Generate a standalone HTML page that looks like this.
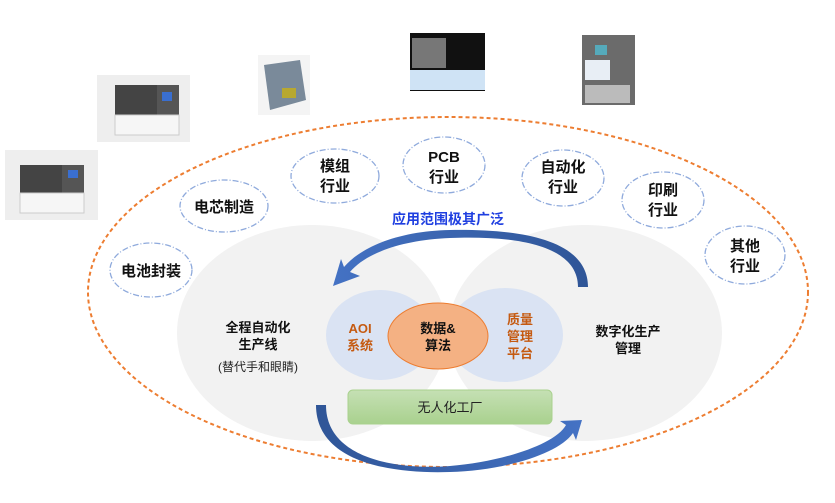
<!DOCTYPE html>
<html><head><meta charset="utf-8"><style>
body{margin:0;width:835px;height:498px;background:#fff;overflow:hidden}
text{font-family:"Liberation Sans","Noto Sans CJK SC",sans-serif}
</style></head><body>
<svg width="835" height="498" viewBox="0 0 835 498" xmlns="http://www.w3.org/2000/svg">
<rect x="5" y="150" width="93" height="70" fill="#eee"/>
<rect x="20" y="165" width="42" height="28" fill="#444"/><rect x="62" y="165" width="22" height="28" fill="#555"/><rect x="68" y="170" width="10" height="8" fill="#3a6fd0"/><rect x="20" y="193" width="64" height="20" fill="#f6f6f6" stroke="#ccc"/>
<rect x="97" y="75" width="93" height="67" fill="#eee"/>
<rect x="115" y="85" width="42" height="30" fill="#444"/><rect x="157" y="85" width="22" height="30" fill="#555"/><rect x="162" y="92" width="10" height="9" fill="#3a6fd0"/><rect x="115" y="115" width="64" height="20" fill="#f6f6f6" stroke="#ccc"/>
<rect x="258" y="55" width="52" height="60" fill="#f4f4f4"/><polygon points="264,65 300,60 306,100 270,110" fill="#7a8a9a"/><rect x="282" y="88" width="14" height="10" fill="#b8a830"/>
<rect x="410" y="33" width="75" height="58" fill="#111"/><rect x="410" y="70" width="75" height="20" fill="#cfe3f5"/><rect x="412" y="38" width="34" height="30" fill="#777"/>
<rect x="582" y="35" width="53" height="70" fill="#6b6b6b"/><rect x="585" y="60" width="25" height="20" fill="#e8eef5"/><rect x="595" y="45" width="12" height="10" fill="#5ab"/><rect x="585" y="85" width="45" height="18" fill="#bbb"/>
<ellipse cx="448" cy="292" rx="360" ry="175" fill="none" stroke="#ed7d31" stroke-width="2" stroke-dasharray="4,3"/>
<ellipse cx="312" cy="333" rx="135" ry="108" fill="#f2f2f2"/>
<ellipse cx="585" cy="333" rx="137" ry="108" fill="#f2f2f2"/>
<ellipse cx="380" cy="335" rx="54" ry="45" fill="#dae3f3"/>
<ellipse cx="505" cy="335" rx="58" ry="47" fill="#dae3f3"/>
<ellipse cx="438" cy="336" rx="50" ry="33" fill="#f4b183" stroke="#ed7d31" stroke-width="1"/>
<defs><linearGradient id="g" x1="0" y1="0" x2="0" y2="1"><stop offset="0" stop-color="#c5e0b4"/><stop offset="1" stop-color="#a9d18e"/></linearGradient>
<linearGradient id="a" x1="0" y1="0" x2="1" y2="0"><stop offset="0" stop-color="#4472c4"/><stop offset="1" stop-color="#2f5597"/></linearGradient>
<linearGradient id="b" x1="0" y1="0" x2="1" y2="0"><stop offset="0" stop-color="#2f5597"/><stop offset="1" stop-color="#4472c4"/></linearGradient></defs>
<rect x="348" y="390" width="204" height="34" rx="5" fill="url(#g)" stroke="#a9d18e"/>
<path d="M578,287 C578,240 500,236 450,238 C400,240 365,254 350,272 L360,276 L333,286 L341,259 L344,267 C362,246 400,231 450,230 C510,229 588,236 588,287 Z" fill="url(#a)"/>
<path d="M326,405 C326,460 400,470 450,466 C500,462 555,445 566,425 L560,421 L582,420 L576,440 L573,433 C558,455 500,471 450,472 C390,474 316,462 316,405 Z" fill="url(#b)"/>
<g fill="none" stroke="#8faadc" stroke-width="1.3" stroke-dasharray="6,2,1,2">
<ellipse cx="151" cy="270" rx="41" ry="27"/>
<ellipse cx="224" cy="206" rx="44" ry="26"/>
<ellipse cx="335" cy="176" rx="44" ry="27"/>
<ellipse cx="444" cy="165" rx="41" ry="28"/>
<ellipse cx="563" cy="178" rx="41" ry="28"/>
<ellipse cx="663" cy="200" rx="41" ry="28"/>
<ellipse cx="745" cy="255" rx="40" ry="29"/>
</g>
<g font-size="15" font-weight="bold" fill="#111" text-anchor="middle">
<text x="151" y="276">电池封装</text>
<text x="224" y="212">电芯制造</text>
<text x="335" y="171">模组</text><text x="335" y="191">行业</text>
<text x="444" y="162">PCB</text><text x="444" y="182">行业</text>
<text x="563" y="172">自动化</text><text x="563" y="192">行业</text>
<text x="663" y="195">印刷</text><text x="663" y="215">行业</text>
<text x="745" y="251">其他</text><text x="745" y="271">行业</text>
</g>
<text x="448" y="224" font-size="14" font-weight="bold" fill="#1f3fe0" text-anchor="middle">应用范围极其广泛</text>
<g font-size="13" font-weight="bold" fill="#111" text-anchor="middle">
<text x="258" y="332">全程自动化</text><text x="258" y="349">生产线</text>
<text x="628" y="336">数字化生产</text><text x="628" y="353">管理</text>
<text x="438" y="333">数据&amp;</text><text x="438" y="350">算法</text>
</g>
<text x="258" y="371" font-size="12" fill="#222" text-anchor="middle">(替代手和眼睛)</text>
<g font-size="13" font-weight="bold" fill="#c55a11" text-anchor="middle">
<text x="360" y="333">AOI</text><text x="360" y="350">系统</text>
<text x="520" y="324">质量</text><text x="520" y="341">管理</text><text x="520" y="358">平台</text>
</g>
<text x="450" y="412" font-size="13" fill="#222" text-anchor="middle">无人化工厂</text>
</svg>
</body></html>
